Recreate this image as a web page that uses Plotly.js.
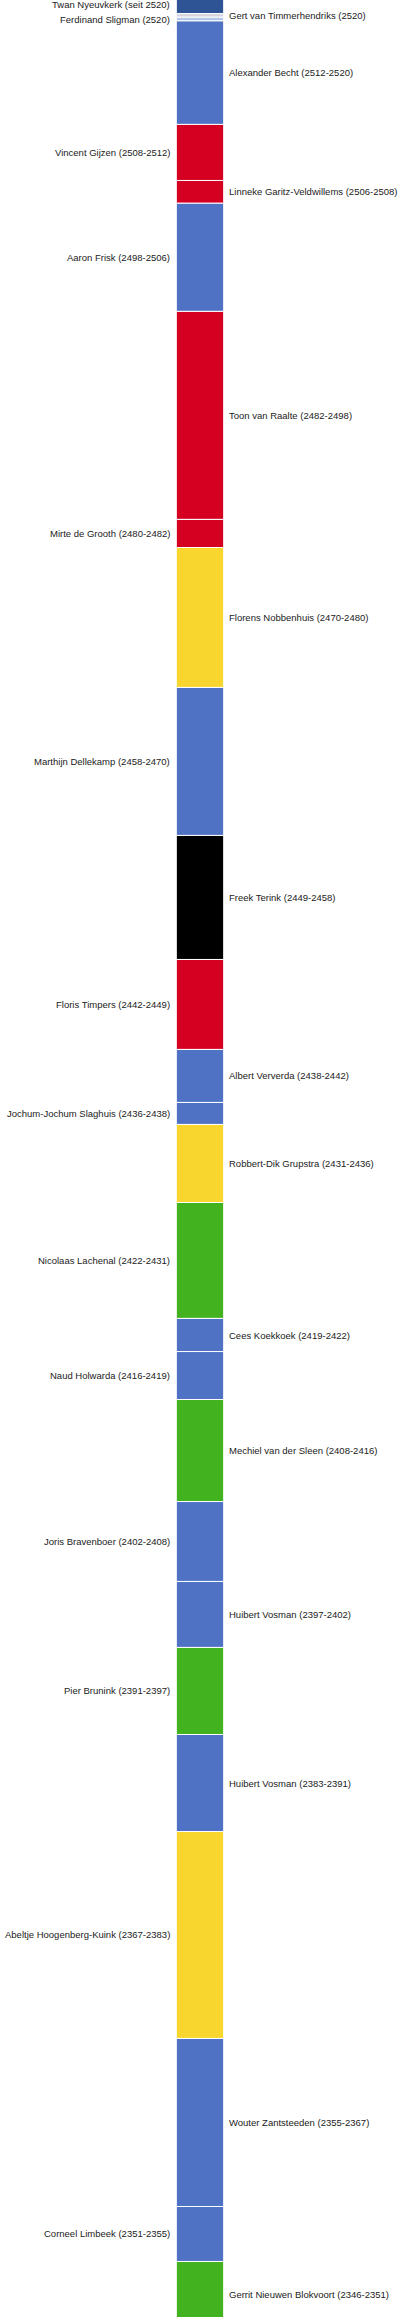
<!DOCTYPE html>
<html>
<head>
<meta charset="utf-8">
<script src="https://cdn.plot.ly/plotly-3.0.1.min.js"></script>
<style>
  html, body { margin: 0; padding: 0; background: #fff; }
  #chart { width: 400px; height: 2317px; }
</style>
</head>
<body>
<div id="chart"></div>
<script>
// top to bottom, most recent first
const labels = [
  "Twan Nyeuvkerk (seit 2520)",
  "Gert van Timmerhendriks (2520)",
  "Ferdinand Sligman (2520)",
  "Alexander Becht (2512-2520)",
  "Vincent Gijzen (2508-2512)",
  "Linneke Garitz-Veldwillems (2506-2508)",
  "Aaron Frisk (2498-2506)",
  "Toon van Raalte (2482-2498)",
  "Mirte de Grooth (2480-2482)",
  "Florens Nobbenhuis (2470-2480)",
  "Marthijn Dellekamp (2458-2470)",
  "Freek Terink (2449-2458)",
  "Floris Timpers (2442-2449)",
  "Albert Ververda (2438-2442)",
  "Jochum-Jochum Slaghuis (2436-2438)",
  "Robbert-Dik Grupstra (2431-2436)",
  "Nicolaas Lachenal (2422-2431)",
  "Cees Koekkoek (2419-2422)",
  "Naud Holwarda (2416-2419)",
  "Mechiel van der Sleen (2408-2416)",
  "Joris Bravenboer (2402-2408)",
  "Huibert Vosman (2397-2402)",
  "Pier Brunink (2391-2397)",
  "Huibert Vosman (2383-2391)",
  "Abeltje Hoogenberg-Kuink (2367-2383)",
  "Wouter Zantsteeden (2355-2367)",
  "Corneel Limbeek (2351-2355)",
  "Gerrit Nieuwen Blokvoort (2346-2351)"
];

// start and end of each term (fractional years)
const termStart = [
  2520.55, 2520.28, 2520.00, 2512.19, 2507.96, 2506.24, 2498.08, 2482.38,
  2480.26, 2469.70, 2458.53, 2449.17, 2442.38, 2438.38, 2436.72, 2430.83,
  2422.08, 2419.58, 2415.96, 2408.26, 2402.23, 2397.25, 2390.68, 2383.36,
  2367.74, 2355.06, 2350.91, 2346.00
];
const termEnd = [
  2521.95, 2520.55, 2520.28, 2520.00, 2512.19, 2507.96, 2506.24, 2498.08,
  2482.38, 2480.26, 2469.70, 2458.53, 2449.17, 2442.38, 2438.38, 2436.72,
  2430.83, 2422.08, 2419.58, 2415.96, 2408.26, 2402.23, 2397.25, 2390.68,
  2383.36, 2367.74, 2355.06, 2350.91
];

const colors = [
  "#2f5496", "#d4d6db", "#b4c6e7", "#4f72c4", "#d50021", "#d50021", "#4f72c4",
  "#d50021", "#d50021", "#f9d62e", "#4f72c4", "#000000", "#d50021", "#4f72c4",
  "#4f72c4", "#f9d62e", "#42b21f", "#4f72c4", "#4f72c4", "#42b21f", "#4f72c4",
  "#4f72c4", "#42b21f", "#4f72c4", "#f9d62e", "#4f72c4", "#4f72c4", "#42b21f"
];

const barWidth = 0.237;

const trace = {
  type: "bar",
  x: labels.map(() => 0),
  base: termStart,
  y: termStart.map((s, i) => termEnd[i] - s),
  width: barWidth,
  marker: {
    color: colors,
    line: { color: "#ffffff", width: 1 }
  },
  hoverinfo: "skip"
};

// labels alternate left / right of the bar
const annotations = labels.map((text, i) => {
  const left = i % 2 === 0;
  return {
    x: left ? -barWidth / 2 : barWidth / 2,
    y: (termStart[i] + termEnd[i]) / 2,
    xref: "x",
    yref: "y",
    text: text,
    showarrow: false,
    xanchor: left ? "right" : "left",
    yanchor: "middle",
    xshift: left ? -4 : 3,
    font: { family: "Arial, Liberation Sans, sans-serif", size: 9.5, color: "#222222" }
  };
});

Plotly.newPlot("chart", [trace], {
  width: 400,
  height: 2317,
  margin: { l: 0, r: 0, t: 0, b: 0 },
  paper_bgcolor: "#ffffff",
  plot_bgcolor: "#ffffff",
  showlegend: false,
  barmode: "overlay",
  xaxis: { range: [-1, 1], visible: false, fixedrange: true },
  yaxis: { range: [2346.72, 2521.58], visible: false, fixedrange: true },
  annotations: annotations
}, { displayModeBar: false, staticPlot: true });
</script>
</body>
</html>
